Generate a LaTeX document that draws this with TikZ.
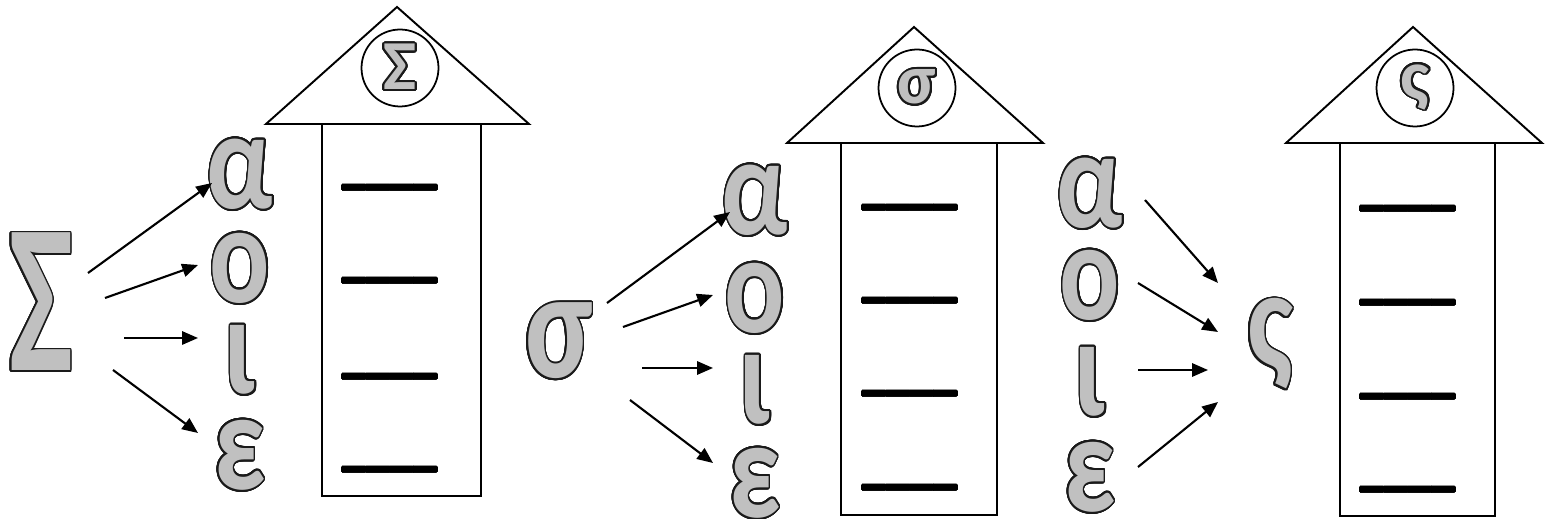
\documentclass[tikz,border=0pt]{standalone}
\usepackage{fontspec}
\setmainfont{Carlito}
\usepackage{contour}
\contourlength{1.1pt}
\contournumber{32}
\usetikzlibrary{arrows.meta}
\definecolor{lettergray}{HTML}{C0C0C0}
\definecolor{letteredge}{HTML}{1A1A1A}
\newcommand{\glyph}[1]{{\color{lettergray}\contour{letteredge}{#1}}}
\newcommand{\blankline}{{\contourlength{0.6pt}\contour{black}{\_\_\_\_}}}
\tikzset{letter/.style={inner sep=0pt,xscale=0.8,font=\bfseries\fontsize{80}{80}\selectfont},bigletter/.style={letter,xscale=0.8,font=\bfseries\fontsize{121}{121}\selectfont},midletter/.style={letter,font=\bfseries\fontsize{88}{88}\selectfont},roofletter/.style={circle,draw,line width=1pt,minimum size=1.54cm,inner sep=0pt,font=\bfseries\fontsize{40}{40}\selectfont},blank/.style={inner sep=0pt,anchor=base,font=\bfseries\fontsize{27}{27}\selectfont},house/.style={line width=1.1pt},line/.style={-{Triangle[length=9pt,width=7.5pt]},line width=1.2pt}}

\begin{document}
\begin{tikzpicture}[x=0.02cm,y=-0.02cm]
\useasboundingbox (0,0) rectangle (1547,519);
% first house: capital sigma
\draw[house] (397,7) -- (266,124) -- (529,124) -- cycle;
\draw[house] (322,124) rectangle (481,496);
\node[roofletter] (r1) at (400,68) {\glyph{Σ}};
\node[bigletter] (S) at (41,303) {\glyph{Σ}};
\node[letter] (a1) at (240,175) {\glyph{α}};
\node[letter] (o1) at (240,269) {\glyph{ο}};
\node[letter] (i1) at (240,361) {\glyph{ι}};
\node[letter] (e1) at (240,456) {\glyph{ε}};
\coordinate (S1) at (88,273);  \coordinate (A1) at (212,183);
\coordinate (S2) at (105,298); \coordinate (O1) at (198,265);
\coordinate (S3) at (124,338); \coordinate (I1) at (198,338);
\coordinate (S4) at (113,370); \coordinate (E1) at (198,433);
\draw[line] (S1) -- (A1);
\draw[line] (S2) -- (O1);
\draw[line] (S3) -- (I1);
\draw[line] (S4) -- (E1);
% second house: small sigma
\draw[house] (914,27) -- (787,143) -- (1043,143) -- cycle;
\draw[house] (841,143) rectangle (997,515);
\node[roofletter] (r2) at (917,88) {\glyph{σ}};
\node[midletter] (s) at (559,342) {\glyph{σ}};
\node[letter] (a2) at (755,201) {\glyph{α}};
\node[letter] (o2) at (755,299) {\glyph{ο}};
\node[letter] (i2) at (755,391) {\glyph{ι}};
\node[letter] (e2) at (755,484) {\glyph{ε}};
\coordinate (s1) at (607,303); \coordinate (A2) at (730,212);
\coordinate (s2) at (623,327); \coordinate (O2) at (713,295);
\coordinate (s3) at (642,368); \coordinate (I2) at (713,368);
\coordinate (s4) at (630,400); \coordinate (E2) at (713,463);
\draw[line] (s1) -- (A2);
\draw[line] (s2) -- (O2);
\draw[line] (s3) -- (I2);
\draw[line] (s4) -- (E2);
% third house: final sigma
\draw[house] (1413,27) -- (1286,143) -- (1542,143) -- cycle;
\draw[house] (1340,143) rectangle (1495,516);
\node[roofletter] (r3) at (1415,88) {\glyph{ς}};
\node[letter] (f) at (1270,345) {\glyph{ς}};
\node[letter] (a3) at (1090,194) {\glyph{α}};
\node[letter] (o3) at (1090,286) {\glyph{ο}};
\node[letter] (i3) at (1090,383) {\glyph{ι}};
\node[letter] (e3) at (1090,478) {\glyph{ε}};
\coordinate (A3) at (1145,200); \coordinate (f1) at (1218,283);
\coordinate (O3) at (1138,283); \coordinate (f2) at (1218,332);
\coordinate (I3) at (1138,370); \coordinate (f3) at (1208,370);
\coordinate (E3) at (1138,467); \coordinate (f4) at (1218,402);
\draw[line] (A3) -- (f1);
\draw[line] (O3) -- (f2);
\draw[line] (I3) -- (f3);
\draw[line] (E3) -- (f4);
% blanks
\foreach \y [count=\k] in {187,280,376,469}
  \node[blank] (b1-\k) at (390,\y-4) {\blankline};
\foreach \y [count=\k] in {207,300,393,487}
  \node[blank] (b2-\k) at (910,\y-4) {\blankline};
\foreach \y [count=\k] in {208,302,396,489}
  \node[blank] (b3-\k) at (1408,\y-4) {\blankline};
\end{tikzpicture}
\end{document}
